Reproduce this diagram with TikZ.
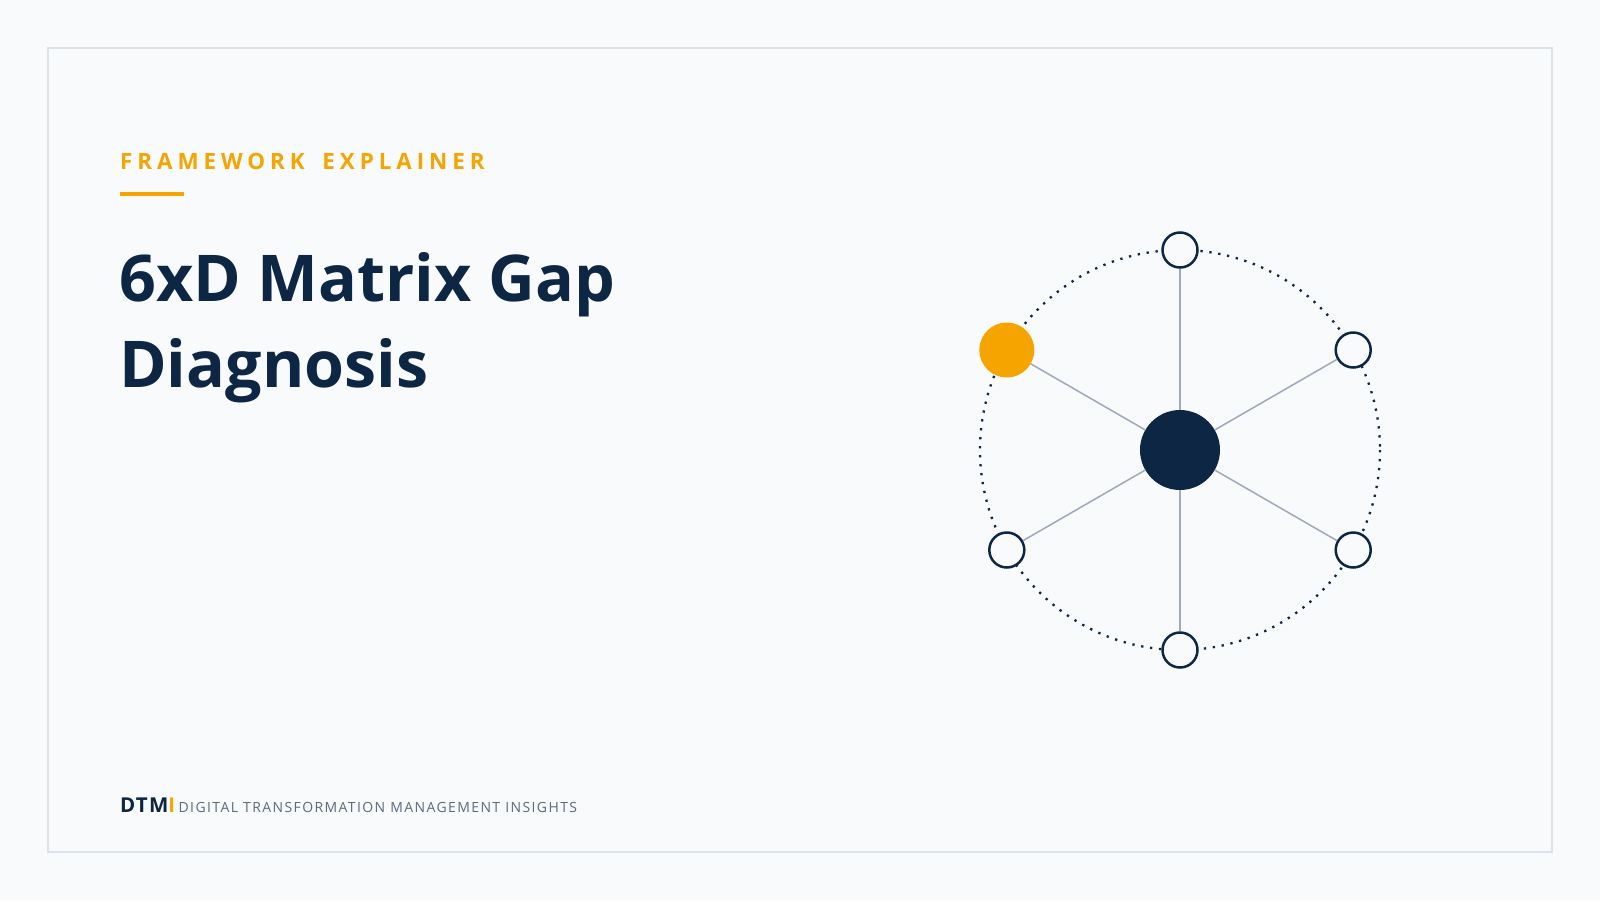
\documentclass[tikz,border=0pt]{standalone}
\usepackage{fontspec}
\setmainfont{Open Sans}
\newfontfamily\kickerfont[LetterSpace=22]{Open Sans}
\newfontfamily\footerfont[LetterSpace=10]{Open Sans}
\newfontfamily\brandfont[LetterSpace=6]{Open Sans}
\usetikzlibrary{positioning}

\definecolor{navy}{HTML}{0D2644}
\definecolor{amber}{HTML}{F5A400}
\definecolor{spoke}{HTML}{A0A9B8}
\definecolor{slate}{HTML}{5A6A80}
\definecolor{framegray}{HTML}{DDE3EA}
\definecolor{paper}{HTML}{F8FAFC}

\tikzset{
  dim/.style={circle,draw=navy,line width=2.5pt,fill=paper,minimum size=35pt,inner sep=0pt},
  hub/.style={circle,fill=navy,minimum size=80pt,inner sep=0pt},
  gap/.style={circle,fill=amber,minimum size=55pt,inner sep=0pt},
  spokeline/.style={draw=spoke,line width=1.5pt}
}

\begin{document}
\begin{tikzpicture}[x=1pt,y=-1pt]
			\useasboundingbox (0,0) rectangle (1600,900);
			\fill [paper] (0,0) rectangle (1600,900);
			\draw [framegray,line width=2pt] (48,48) rectangle (1552,852);
			% heading
			\node (kicker) [anchor=base west,inner sep=0pt,text=amber] at (120,169) {\kickerfont\fontsize{22.4}{26}\selectfont\bfseries FRAMEWORK\hspace{7pt} EXPLAINER};
			\fill [amber] (120,192) rectangle (184,196);
			\node (title1) [anchor=base west,inner sep=0pt,text=navy] at (119,301) {\fontsize{64.5}{86}\selectfont\bfseries 6xD Matrix Gap};
			\node (title2) [anchor=base west,inner sep=0pt,text=navy] at (119,387) {\fontsize{64.5}{86}\selectfont\bfseries Diagnosis};
			% footer
			\node (brand) [anchor=base west,inner sep=0pt] at (120,812) {\brandfont\fontsize{20.5}{24}\selectfont\bfseries\textcolor{navy}{DTM}\textcolor{amber}{I}};
			\node (tagline) [inner sep=0pt,text=slate,right=3pt of brand.base east,anchor=base west] {\footerfont\fontsize{14}{17}\selectfont DIGITAL TRANSFORMATION MANAGEMENT INSIGHTS};
			% ring
			\draw [navy,line width=2.3pt,dash pattern=on 2.3pt off 6.7pt] (1180,450) circle (200);
			\node (center) [hub] at (1180,450) {};
			\node (d1) [dim] at (1180,250) {};
			\node (d2) [dim] at (1353.2,350) {};
			\node (d3) [dim] at (1353.2,550) {};
			\node (d4) [dim] at (1180,650) {};
			\node (d5) [dim] at (1006.8,550) {};
			\node (d6) [gap] at (1006.8,350) {};
			\draw [spokeline] (center) -- (d1);
			\draw [spokeline] (center) -- (d2);
			\draw [spokeline] (center) -- (d3);
			\draw [spokeline] (center) -- (d4);
			\draw [spokeline] (center) -- (d5);
			\draw [spokeline] (center) -- (d6);
\end{tikzpicture}
\end{document}
